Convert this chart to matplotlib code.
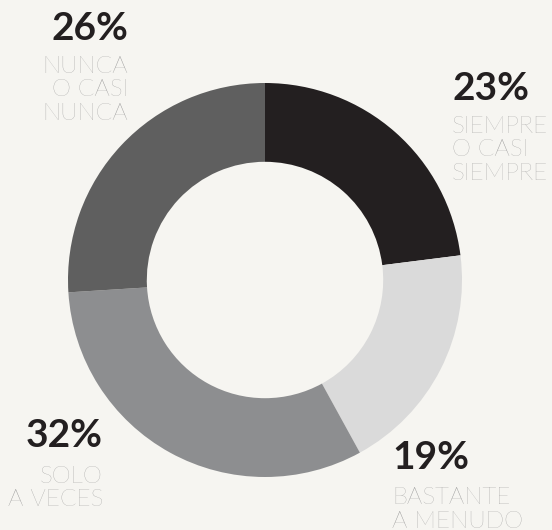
import matplotlib
matplotlib.use('Agg')
import matplotlib.pyplot as plt

# data, clockwise from the top
percents = [23, 19, 32, 26]
labels = [["SIEMPRE", "O CASI", "SIEMPRE"],
          ["BASTANTE", "A MENUDO"],
          ["SOLO", "A VECES"],
          ["NUNCA", "O CASI", "NUNCA"]]
colors = ["#231f20", "#dadada", "#8d8e90", "#5f5f5f"]

W, H = 552, 530
bg = "#f6f5f1"

fig = plt.figure(figsize=(W / 100, H / 100), dpi=100)
fig.patch.set_facecolor(bg)

# donut: centre (265, 280) px, radius 197 px
cx, cy, r = 265, 280, 197
ax = fig.add_axes([(cx - r) / W, (H - cy - r) / H, 2 * r / W, 2 * r / H])
ax.set_facecolor(bg)
ax.pie(percents, colors=colors, startangle=90, counterclock=False, radius=1,
       wedgeprops=dict(width=0.4, linewidth=0))
ax.set_xlim(-1, 1)
ax.set_ylim(-1, 1)
ax.set_aspect('equal')
ax.axis('off')

# text anchors in pixels: (x, number baseline, first label baseline, align)
anchors = [(452, 100, 133, 'left'),
           (392, 469, 504, 'left'),
           (103, 447, 483, 'right'),
           (128, 40, 73, 'right')]
line_step = 23.5

for pct, lab, (x, yn, yl, ha) in zip(percents, labels, anchors):
    fig.text(x / W, 1 - yn / H, f"{pct}%", ha=ha, va='baseline',
             fontsize=28, fontweight='bold', family='Lato', color="#231f20")
    for i, line in enumerate(lab):
        fig.text(x / W, 1 - (yl + i * line_step) / H, line, ha=ha, va='baseline',
                 fontsize=17.5, fontweight='light', family='Lato', color="#959595")

fig.savefig("out.png", dpi=100, facecolor=bg)
